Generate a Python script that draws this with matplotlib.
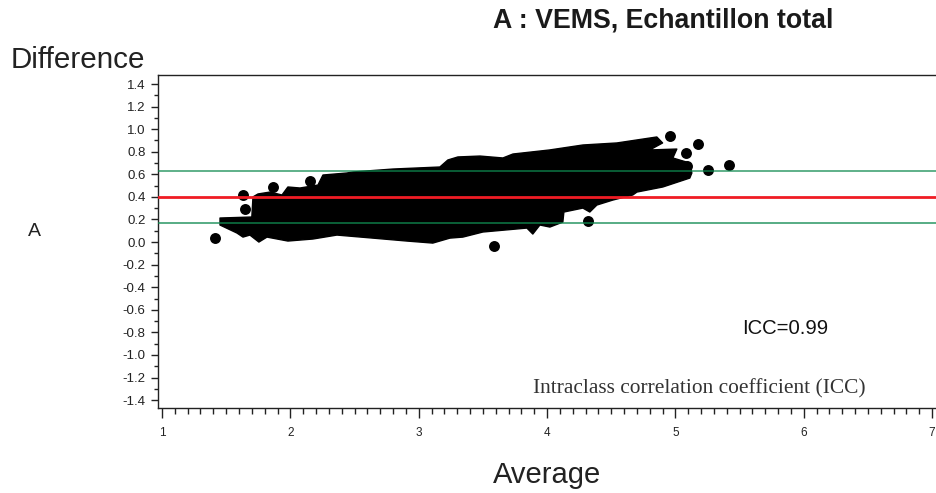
import matplotlib
matplotlib.use('Agg')
import matplotlib.pyplot as plt
from matplotlib.ticker import MultipleLocator

plt.rcParams['font.family'] = ['Liberation Sans', 'DejaVu Sans']

# Outline of the dense point cloud
upper_x = [1.452, 1.70, 1.709, 1.748, 1.841, 1.935, 1.981, 2.075, 2.215, 2.254, 2.441, 2.488, 2.80, 3.165, 3.227,
           3.305, 3.477, 3.656, 3.734, 4.02, 4.279, 4.544, 4.855, 4.90, 4.80, 5.011, 4.98, 5.112, 5.128]
upper_y = [0.213, 0.222, 0.40, 0.426, 0.443, 0.417, 0.488, 0.479, 0.505, 0.594, 0.612, 0.621, 0.647, 0.665, 0.727,
           0.754, 0.762, 0.745, 0.78, 0.816, 0.86, 0.878, 0.931, 0.878, 0.816, 0.824, 0.745, 0.70, 0.612]
lower_x = [1.452, 1.584, 1.631, 1.685, 1.755, 1.818, 1.981, 2.176, 2.363, 2.643, 2.908, 3.11, 3.243, 3.344, 3.5,
           3.843, 3.889, 3.944, 4.022, 4.123, 4.131, 4.279, 4.333, 4.388, 4.512, 4.668, 4.7, 4.902, 5.112]
lower_y = [0.151, 0.08, 0.044, 0.062, 0.0, 0.044, 0.009, 0.027, 0.062, 0.035, 0.009, -0.009, 0.035, 0.044, 0.089,
           0.124, 0.071, 0.151, 0.133, 0.177, 0.266, 0.301, 0.266, 0.328, 0.372, 0.417, 0.443, 0.488, 0.567]

# Isolated points
outlier_x = [1.41, 1.63, 1.65, 1.865, 2.157, 4.956, 5.174, 5.08, 5.09, 5.25, 5.42, 4.32, 3.59]
outlier_y = [0.035, 0.417, 0.29, 0.487, 0.54, 0.94, 0.87, 0.79, 0.67, 0.64, 0.68, 0.186, -0.035]

# Reference lines
mean_diff = 0.40
limit_low = 0.17
limit_high = 0.63

x_ticks = [1, 2, 3, 4, 5, 6, 7]
y_ticks = [1.4, 1.2, 1.0, 0.8, 0.6, 0.4, 0.2, 0.0, -0.2, -0.4, -0.6, -0.8, -1.0, -1.2, -1.4]

fig = plt.figure(figsize=(9.36, 4.93), dpi=100)
ax = fig.add_axes([158 / 936, 1 - 408 / 493, (936 - 158) / 936, (408 - 75) / 493])

# Cloud body: one polygon from the two outlines
ax.fill(upper_x + lower_x[::-1], upper_y + lower_y[::-1], color='black', lw=1, joinstyle='round', zorder=2)
ax.scatter(outlier_x, outlier_y, s=62, color='black', lw=0, zorder=2)

ax.axhline(limit_high, color='#0f8a50', alpha=0.85, lw=1.1, zorder=3)
ax.axhline(limit_low, color='#0f8a50', alpha=0.7, lw=1.4, zorder=3)
ax.axhline(mean_diff, color='#f01c24', lw=2, zorder=4)

ax.set_xlim(0.969, 7.03)
ax.set_ylim(-1.47, 1.48)

ax.set_xticks(x_ticks)
ax.set_yticks(y_ticks)
ax.set_yticklabels(['%.1f' % v for v in y_ticks])
ax.xaxis.set_minor_locator(MultipleLocator(0.1))
ax.yaxis.set_minor_locator(MultipleLocator(0.1))
ax.tick_params(axis='x', which='major', length=7, width=1, labelsize=8.5, pad=7, color='#222222', labelcolor='#222222')
ax.tick_params(axis='x', which='minor', length=4, width=1, color='#222222')
ax.tick_params(axis='y', which='major', length=5, width=1, labelsize=9.5, pad=4, color='#222222', labelcolor='#222222')
ax.tick_params(axis='y', which='minor', length=3, width=1, color='#222222')
ax.spines['right'].set_visible(False)
for side in ['left', 'top', 'bottom']:
    ax.spines[side].set_linewidth(1)
    ax.spines[side].set_color('#222222')


def put(px, py, s, **kw):
    # px, py: left end and baseline of the text, in picture pixels
    fig.text(px / 936, 1 - py / 493, s, va='baseline', **kw)


put(493, 28, 'A : VEMS, Echantillon total', fontsize=19.3, fontweight='bold', color='#1a1a1a')
put(11, 68, 'Difference', fontsize=21.3, color='#222222')
put(28, 236, 'A', fontsize=14, color='#222222')
put(493, 483, 'Average', fontsize=21, color='#222222')
put(742, 334, 'ICC=0.99', fontsize=14.6, color='#111111')
put(533, 393, 'Intraclass correlation coefficient (ICC)', fontsize=15.4, family='Liberation Serif', color='#333333')

fig.savefig('out.png', dpi=100)
